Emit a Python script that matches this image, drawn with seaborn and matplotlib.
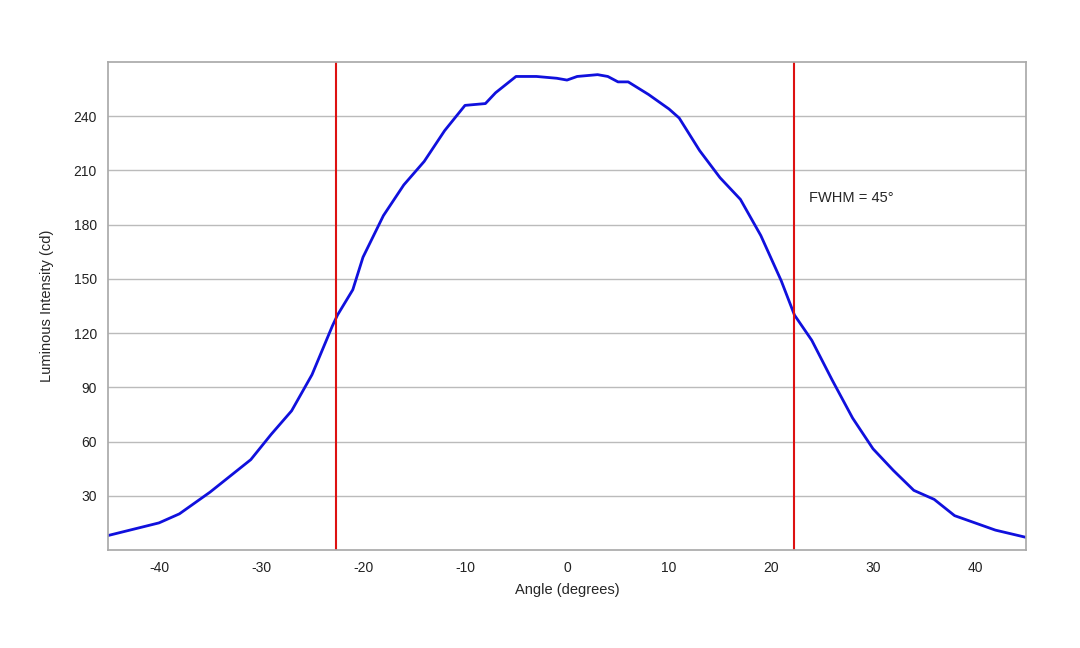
import matplotlib
matplotlib.use("Agg")
import matplotlib.pyplot as plt
import seaborn as sns
import pandas as pd

angle = [-45, -40, -38, -35, -33, -31, -29, -27, -25, -23, -22.5, -21, -20, -18, -16, -14, -12, -10, -8, -7, -5, -3, -1, 0,
         1, 3, 4, 5, 6, 8, 10, 11, 13, 15, 17, 19, 21, 22.3, 24, 26, 28, 30, 32, 34, 36, 38, 40, 42, 45]
intensity = [8, 15, 20, 32, 41, 50, 64, 77, 97, 124, 130, 144, 162, 185, 202, 215, 232, 246, 247, 253, 262, 262, 261, 260,
             262, 263, 262, 259, 259, 252, 244, 239, 221, 206, 194, 174, 149, 130, 116, 94, 73, 56, 44, 33, 28, 19, 15, 11, 7]
fwhm_lines = [-22.6, 22.3]
yticks = [30, 60, 90, 120, 150, 180, 210, 240]
xticks = [-40, -30, -20, -10, 0, 10, 20, 30, 40]

sns.set_theme(style="white")
plt.rcParams['font.family'] = ['Liberation Sans', 'DejaVu Sans']
plt.rcParams['axes.unicode_minus'] = False
fig = plt.figure(figsize=(10.8, 6.48), dpi=100)
ax = fig.add_axes([108/1080, 1-550/648, (1026-108)/1080, (550-62)/648])
df = pd.DataFrame({"a": angle, "v": intensity})
sns.lineplot(data=df, x="a", y="v", ax=ax, color="#1010dd", linewidth=2)
for xl in fwhm_lines:
    ax.axvline(xl, color="#dd1111", linewidth=1.5)
ax.set_xlim(-45, 45)
ax.set_ylim(0, 270)
ax.set_yticks(yticks)
ax.set_xticks(xticks)
ax.yaxis.grid(True, color="#bbbbbb", linewidth=1)
ax.set_axisbelow(True)
for s in ax.spines.values():
    s.set_color("#aaaaaa")
ax.tick_params(axis="both", labelsize=10, colors="#222222", length=0, pad=8)
ax.set_xlabel("Angle (degrees)", fontsize=10.5, labelpad=6)
ax.set_ylabel("Luminous Intensity (cd)", fontsize=10.5, labelpad=14)
ax.text(23.7, 195, "FWHM = 45°", fontsize=10.5, va="center")
fig.savefig("out.png", dpi=100)
